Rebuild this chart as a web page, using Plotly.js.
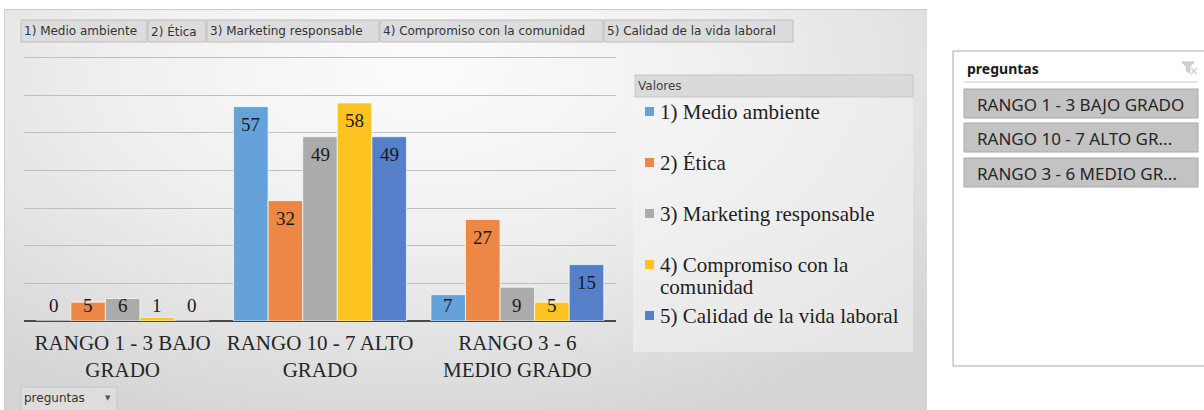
<!DOCTYPE html>
<html><head><meta charset="utf-8">
<script src="https://cdn.plot.ly/plotly-3.0.1.min.js"></script>
<style>
html,body{margin:0;padding:0;background:#fff;width:1204px;height:410px;overflow:hidden}
#panel{position:absolute;left:4px;top:9px;width:922px;height:401px;
 background:radial-gradient(ellipse 75% 95% at 45% 15%, #fcfcfc 0%, #efefef 45%, #d4d4d4 100%);
 border-top:1px solid #c9c9c9;border-left:1px solid #d0d0d0}
#chart{position:absolute;left:0;top:0;width:1204px;height:410px}
</style></head><body>
<div id="panel"></div><div id="chart"></div>
<script>
// ---------- data ----------
const categories = ["RANGO 1 - 3 BAJO GRADO", "RANGO 10 - 7 ALTO GRADO", "RANGO 3 - 6 MEDIO GRADO"];
const categoryLabels = ["RANGO 1 - 3 BAJO<br>GRADO", "RANGO 10 - 7 ALTO<br>GRADO", "RANGO 3 - 6<br>MEDIO GRADO"];
const seriesNames = ["1) Medio ambiente", "2) Ética", "3) Marketing responsable", "4) Compromiso con la comunidad", "5) Calidad de la vida laboral"];
const medioAmbiente = [0, 57, 7];
const etica = [5, 32, 27];
const marketingResponsable = [6, 49, 9];
const compromisoComunidad = [1, 58, 5];
const calidadVidaLaboral = [0, 49, 15];
const seriesValues = [medioAmbiente, etica, marketingResponsable, compromisoComunidad, calidadVidaLaboral];
const legendTitle = "Valores";
const slicerTitle = "preguntas";
const slicerItems = ["RANGO 1 - 3 BAJO GRADO", "RANGO 10 - 7 ALTO GR...", "RANGO 3 - 6 MEDIO GR..."];
const fieldButton = "preguntas";

// ---------- styles ----------
const colors = ["#66a2da", "#ec8746", "#ababab", "#fdc320", "#5580c9"];
const serif = "Liberation Serif, Times New Roman, serif";
const sans = "DejaVu Sans, Verdana, sans-serif";
const L = 24, R = 616, T = 54, B = 321;
const X = px => (px - L) / (R - L);
const Y = py => (B - py) / (B - T);
const yMax = 71;
const bargap = 0.124;
const nS = seriesValues.length;
const barW = (1 - bargap) / nS;
const pxPerUnit = (B - T) / yMax;

const traces = seriesValues.map((vals, i) => ({
  type: "bar", name: seriesNames[i], x: categories, y: vals,
  marker: {color: colors[i], line: {color: "rgba(255,255,255,0.7)", width: 1}},
  hoverinfo: "skip", showlegend: false
}));

const annotations = [];
const shapes = [];

// value labels
seriesValues.forEach((vals, i) => {
  vals.forEach((v, c) => {
    const xpos = c + (i - (nS - 1) / 2) * barW;
    const inside = v * pxPerUnit - 18 >= 16;
    annotations.push({
      x: xpos, y: inside ? v : 0, xref: "x", yref: "y",
      yshift: inside ? -18 : 16, yanchor: "middle", xanchor: "center",
      text: String(v), showarrow: false,
      font: {family: serif, size: 19, color: "#1a1a1a"}
    });
  });
});

// measure helper for wrapping legend text
const ctx = document.createElement("canvas").getContext("2d");
function wrap(text, font, maxW) {
  ctx.font = font;
  const words = text.split(" ");
  const lines = []; let cur = "";
  words.forEach(w => {
    const t = cur ? cur + " " + w : w;
    if (ctx.measureText(t).width > maxW && cur) { lines.push(cur); cur = w; } else cur = t;
  });
  if (cur) lines.push(cur);
  return lines;
}

// legend panel
shapes.push({type: "rect", xref: "paper", yref: "paper", x0: X(633), x1: X(913), y0: Y(75), y1: Y(352),
  fillcolor: "rgba(244,244,244,0.55)", line: {width: 0}, layer: "below"});
shapes.push({type: "rect", xref: "paper", yref: "paper", x0: X(635), x1: X(913), y0: Y(75), y1: Y(97),
  fillcolor: "#dadada", line: {color: "#c6c6c6", width: 1}});
annotations.push({xref: "paper", yref: "paper", x: X(636), y: Y(86), xanchor: "left", yanchor: "middle",
  text: legendTitle, showarrow: false, font: {family: sans, size: 12, color: "#404040"}});
seriesNames.forEach((name, i) => {
  const cy = 112 + i * 51;
  shapes.push({type: "rect", xref: "paper", yref: "paper", x0: X(645), x1: X(654), y0: Y(cy + 4), y1: Y(cy - 5),
    fillcolor: colors[i], line: {width: 0}});
  const lines = wrap(name, "21px Liberation Serif", 252);
  lines.forEach((ln, k) => {
    annotations.push({xref: "paper", yref: "paper", x: X(658), y: Y(cy + k * 22), xanchor: "left", yanchor: "middle",
      text: ln, showarrow: false, font: {family: serif, size: 21, color: "#1f1f1f"}});
  });
});

// field tabs at top
const tabEdges = [21, 148, 207, 380, 604, 794];
seriesNames.forEach((name, i) => {
  shapes.push({type: "rect", xref: "paper", yref: "paper", x0: X(tabEdges[i]), x1: X(tabEdges[i + 1] - 1), y0: Y(42), y1: Y(20),
    fillcolor: "#dcdcdc", line: {color: "#bdbdbd", width: 1}});
  annotations.push({xref: "paper", yref: "paper", x: X(tabEdges[i] + 1), y: Y(31), xanchor: "left", yanchor: "middle",
    text: name, showarrow: false, font: {family: sans, size: 12, color: "#333"}});
});

// bottom field button
shapes.push({type: "rect", xref: "paper", yref: "paper", x0: X(21), x1: X(117), y0: Y(412), y1: Y(387),
  fillcolor: "#dddddd", line: {color: "#c4c4c4", width: 1}});
annotations.push({xref: "paper", yref: "paper", x: X(22), y: Y(398), xanchor: "left", yanchor: "middle",
  text: fieldButton, showarrow: false, font: {family: sans, size: 12, color: "#333"}});
annotations.push({xref: "paper", yref: "paper", x: X(108), y: Y(398), xanchor: "center", yanchor: "middle",
  text: "▼", showarrow: false, font: {family: sans, size: 7, color: "#555"}});

// slicer
shapes.push({type: "rect", xref: "paper", yref: "paper", x0: X(953), x1: X(1210), y0: Y(366), y1: Y(51),
  fillcolor: "#ffffff", line: {color: "#a8a8a8", width: 1}});
annotations.push({xref: "paper", yref: "paper", x: X(965), y: Y(68), xanchor: "left", yanchor: "middle",
  text: "<b>" + slicerTitle + "</b>", showarrow: false, font: {family: "Noto Sans, sans-serif", size: 14, color: "#1a1a1a"}});
shapes.push({type: "line", xref: "paper", yref: "paper", x0: X(964), x1: X(1198), y0: Y(82), y1: Y(82),
  line: {color: "#c8c8c8", width: 1}});
// filter-clear icon
shapes.push({type: "path", xref: "paper", yref: "paper",
  path: `M ${X(1182)} ${Y(62)} L ${X(1194)} ${Y(62)} L ${X(1189.5)} ${Y(67)} L ${X(1189.5)} ${Y(73)} L ${X(1186.5)} ${Y(71)} L ${X(1186.5)} ${Y(67)} Z`,
  fillcolor: "#d2d2d2", line: {color: "#c4c4c4", width: 1}});
shapes.push({type: "line", xref: "paper", yref: "paper", x0: X(1191), x1: X(1197), y0: Y(68), y1: Y(74), line: {color: "#d0d0d0", width: 1.5}});
shapes.push({type: "line", xref: "paper", yref: "paper", x0: X(1197), x1: X(1191), y0: Y(68), y1: Y(74), line: {color: "#d0d0d0", width: 1.5}});
const itemTops = [89, 123, 158];
slicerItems.forEach((it, k) => {
  shapes.push({type: "rect", xref: "paper", yref: "paper", x0: X(964), x1: X(1198), y0: Y(itemTops[k] + 29), y1: Y(itemTops[k]),
    fillcolor: "#c3c3c3", line: {color: "#a9a9a9", width: 1}});
  annotations.push({xref: "paper", yref: "paper", x: X(975), y: Y(itemTops[k] + 15), xanchor: "left", yanchor: "middle",
    text: it, showarrow: false, font: {family: "Noto Sans, sans-serif", size: 17, color: "#262626"}});
});

const layout = {
  width: 1204, height: 410,
  margin: {l: L, r: 1204 - R, t: T, b: 410 - B, pad: 0},
  paper_bgcolor: "rgba(0,0,0,0)", plot_bgcolor: "rgba(0,0,0,0)",
  barmode: "group", bargap: bargap, bargroupgap: 0,
  showlegend: false,
  xaxis: {type: "category", tickvals: categories, ticktext: categoryLabels, ticks: "",
    ticklabelstandoff: 7,
    tickfont: {family: serif, size: 21, color: "#262626"}, showgrid: false, zeroline: false,
    showline: false, fixedrange: true},
  yaxis: {range: [0, yMax], tick0: 0, dtick: 10, showticklabels: false, showgrid: true, gridcolor: "#bfbfbf", gridwidth: 1,
    zeroline: true, zerolinecolor: "#4a4a4a", zerolinewidth: 2, fixedrange: true},
  annotations: annotations, shapes: shapes
};
Plotly.newPlot("chart", traces, layout, {displayModeBar: false, staticPlot: true});
</script>
</body></html>
